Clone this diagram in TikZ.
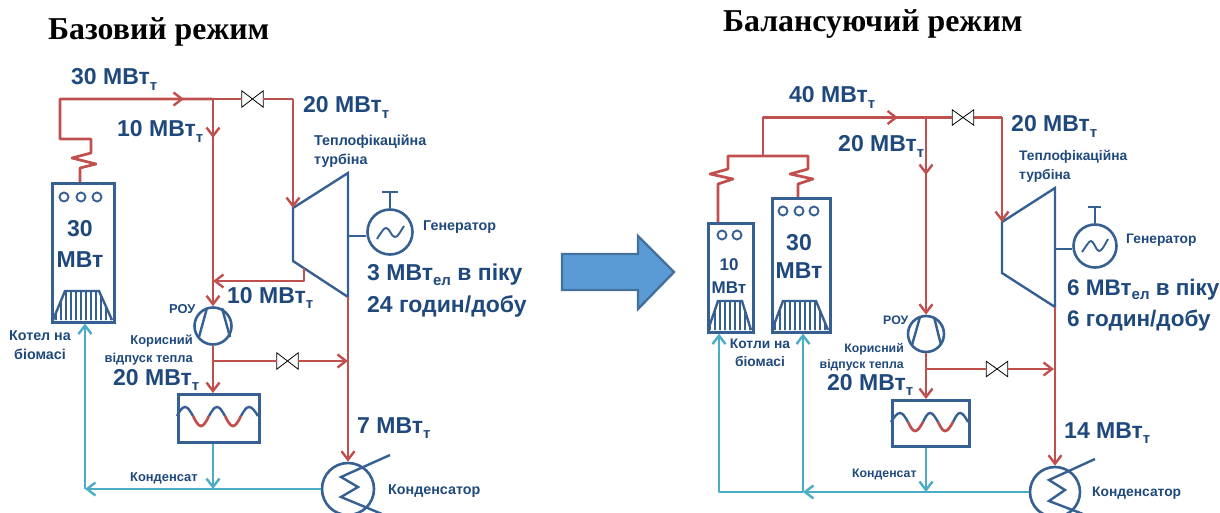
\documentclass[tikz,border=0pt]{standalone}
\usepackage{fontspec}
\setmainfont{Liberation Sans}
\newfontfamily\serifbold[BoldFont={Liberation Serif Bold}]{Liberation Serif}
\usetikzlibrary{arrows.meta}
\definecolor{steam}{HTML}{C0504D}
\definecolor{cond}{HTML}{4BACC6}
\definecolor{equip}{HTML}{376092}
\definecolor{labelc}{HTML}{1F497D}
\definecolor{bigfill}{HTML}{5B9BD5}
\definecolor{bigedge}{HTML}{41719C}
\newcommand{\sbs}[1]{\raisebox{-0.22em}{\fontsize{15}{15}\selectfont #1}}
\newcommand{\mwt}[1]{#1 МВт\sbs{т}}
\tikzset{
  x=1pt,y=-1pt,
  >={Straight Barb[length=8.5pt,width=13pt,line width=2.4pt]},
  steamline/.style={draw=steam,line width=2.7pt,line join=round},
  condline/.style={draw=cond,line width=2.7pt,line join=round},
  equipline/.style={draw=equip,line width=2.4pt,line join=miter},
  boilerbox/.style={draw=equip,line width=2.6pt,fill=white,rectangle,inner sep=0pt,anchor=north west},
  hxbox/.style={draw=equip,line width=2.6pt,rectangle,inner sep=0pt,anchor=north west},
  roundunit/.style={circle,draw=equip,line width=2.6pt,fill=white,inner sep=0pt},
  lampc/.style={circle,draw=equip,line width=1.9pt,inner sep=0pt,minimum size=9pt},
  valvebody/.style={draw=black,line width=0.8pt,fill=white},
  biglabel/.style={anchor=base west,inner sep=0pt,text=labelc,font=\fontsize{23}{23}\selectfont\bfseries},
  bigrlabel/.style={biglabel,font=\fontsize{22.5}{22.5}\selectfont\bfseries},
  smalllabel/.style={anchor=base west,inner sep=0pt,text=labelc,font=\fontsize{14.3}{14.3}\selectfont\bfseries},
  smallright/.style={smalllabel,anchor=base east},
  smallmid/.style={smalllabel,anchor=base},
  rlabel/.style={font=\fontsize{13.8}{13.8}\selectfont\bfseries},
  lrou/.style={font=\fontsize{12.9}{12.9}\selectfont\bfseries},
  rrou/.style={font=\fontsize{12.3}{12.3}\selectfont\bfseries},
  titlelabel/.style={anchor=base west,inner sep=0pt,text=black,font=\serifbold\fontsize{31.8}{31.8}\selectfont\bfseries},
  boilertext/.style={inner sep=0pt,text=labelc,font=\fontsize{23}{23}\selectfont\bfseries,anchor=base},
  boilersmall/.style={boilertext,font=\fontsize{17}{17}\selectfont\bfseries},
}
\newcommand{\valve}[5]{%
  \node[inner sep=0pt,minimum width=#4*2pt,minimum height=#5*2pt] (#1) at (#2,#3) {};
  \draw[valvebody] (#1.north west) -- (#1.south east) -- (#1.north east) -- (#1.south west) -- cycle;
}
\begin{document}
\begin{tikzpicture}
\useasboundingbox (0,0) rectangle (1220,513);
\clip (0,0) rectangle (1220,513);

%%% titles
\node[titlelabel] (t1) at (48,40) {Базовий режим};
\node[titlelabel] (t2) at (723,32) {Балансуючий режим};

%%% big arrow
\draw[draw=bigedge,fill=bigfill,line width=2.4pt,line join=miter]
  (562,254) -- (638,254) -- (638,236) -- (674,272) -- (638,309) -- (638,290) -- (562,290) -- cycle;

%%%%%%%%%%%%%%%% LEFT PANEL
% boiler
\node[boilerbox,minimum width=62pt,minimum height=139pt] (bA) at (51,182) {};
\node[lampc] (bA1) at (64,197) {};
\node[lampc] (bA2) at (81,197) {};
\node[lampc] (bA3) at (97,197) {};
\node[boilertext] (bAt1) at (80,236) {30};
\node[boilertext] (bAt2) at (80,267) {МВт};
\begin{scope}
  \clip (53,320) -- (65,291) -- (99,291) -- (112,320) -- cycle;
  \foreach \xx in {56,61,...,111}{\draw[equipline,line width=1.4pt] (\xx,289) -- (\xx,322);}
\end{scope}
\draw[equipline] (53,320) -- (65,291) -- (99,291) -- (112,320);

% turbine
\coordinate (tAa) at (293,208);
\coordinate (tAb) at (348,173);
\coordinate (tAc) at (348,297);
\coordinate (tAd) at (293,261);
\coordinate (tAx) at (304,268);
\coordinate (tAs) at (348,236);
\draw[equipline] (tAa) -- (tAb) -- (tAc) -- (tAd) -- cycle;

% generator
\node[roundunit,minimum size=45pt] (gA) at (390,232) {};
\draw[equipline] (tAs) -- (gA.west |- tAs);
\coordinate (gAt) at (390,192);
\draw[equipline] (gA.north) -- (gAt);
\draw[equipline] (382,192) -- (398,192);
\draw[equipline,line width=1.9pt] (377,239) .. controls (382,231) and (384,228) .. (386,228) .. controls (390,228) and (391,237) .. (395,237) .. controls (398,237) and (400,232) .. (404,226);

% ROU
\node[roundunit,minimum size=37pt] (rA) at (213,326) {};
\draw[equipline] (199,337) -- (207,308);
\draw[equipline] (222,308) -- (230,337);

% heat exchanger
\node[hxbox,minimum width=81pt,minimum height=48pt] (hA) at (177,393) {};
\draw[equipline] (177,416) sin (185,407) cos (193,416);
\draw[steamline] (193,416) sin (201,426) cos (209,416);
\draw[equipline] (209,416) sin (217,407) cos (225,416);
\draw[steamline] (225,416) sin (233,426) cos (241,416);
\draw[equipline] (241,416) sin (249,407) cos (258,416);

% condenser
\node[roundunit,minimum size=52pt] (cA) at (348,489) {};
\draw[equipline] (390,455) -- (341,477) -- (358,487) -- (341,497) -- (382,514);

% valves
\valve{vA1}{252.5}{99}{10.5}{8}
\valve{vA2}{287.5}{361}{10.5}{8}

% steam
\coordinate (sA0) at (80,182);
\coordinate (sA1) at (60,99);
\coordinate (sAj) at (213,99);
\coordinate (sAc) at (293,99);
\coordinate (sAm) at (184,99);
\coordinate (sAd) at (213,138);
\coordinate (sAr) at (213,281);
\coordinate (sAk) at (213,361);
\coordinate (sAe) at (348,361);
\draw[steamline] (bA.north -| sA0) -- (80,168) -- (96,164) -- (72,158) -- (91,153) -- (91,139) -- (60,139) -- (sA1) -- (sAj);
\draw[steamline,->] (sA1) -- (sAm);
\draw[steamline] (sAj) -- (vA1.west);
\draw[steamline] (vA1.east) -- (sAc);
\draw[steamline,->] (sAc) -- (tAa);
\draw[steamline,->] (sAj) -- (sAd);
\draw[steamline,->] (sAj) -- (rA.north);
\draw[steamline,->] (tAx) -- (304,281) -- (sAr);
\draw[steamline,->] (rA.south) -- (hA.north -| rA);
\draw[steamline] (sAk) -- (vA2.west);
\draw[steamline,->] (vA2.east) -- (sAe);
\draw[steamline,->] (tAc) -- (cA.north);

% condensate
\coordinate (cAj) at (213,489);
\coordinate (cAl) at (85,489);
\draw[condline,->] (hA.south -| cAj) -- (cAj);
\draw[condline,->] (cA.west) -- (cAl);
\draw[condline,->] (cAl) -- (bA.south -| cAl);

% labels
\node[biglabel] (lA1) at (71,85) {\mwt{30}};
\node[biglabel] (lA2) at (117,137) {\mwt{10}};
\node[biglabel] (lA3) at (303,113) {\mwt{20}};
\node[biglabel] (lA4) at (227,303) {\mwt{10}};
\node[biglabel] (lA5) at (367,280) {3 МВт\sbs{ел} в піку};
\node[biglabel] (lA6) at (367,312) {24 годин/добу};
\node[biglabel] (lA7) at (357,433) {\mwt{7}};
\node[biglabel] (lA8) at (113,385) {\mwt{20}};
\node[smalllabel] (sA1l) at (314,146) {Теплофікаційна};
\node[smalllabel] (sA2l) at (314,165) {турбіна};
\node[smalllabel] (sA3l) at (423,230) {Генератор};
\node[smalllabel,lrou] (sA4l) at (169,313) {РОУ};
\node[smallright,lrou] (sA5l) at (193,344) {Корисний};
\node[smallright,lrou] (sA6l) at (193,362) {відпуск тепла};
\node[smallmid] (sA7l) at (40,340) {Котел на};
\node[smallmid] (sA8l) at (40,359) {біомасі};
\node[smalllabel,lrou] (sA9l) at (130,481) {Конденсат};
\node[smalllabel] (sA10l) at (388,494) {Конденсатор};

%%%%%%%%%%%%%%%% RIGHT PANEL
% boilers
\node[boilerbox,minimum width=45pt,minimum height=109pt] (bB) at (707,222) {};
\node[lampc] (bB1) at (722,235) {};
\node[lampc] (bB2) at (737,235) {};
\node[boilersmall] (bBt1) at (729,270) {10};
\node[boilersmall] (bBt2) at (729,293) {МВт};
\begin{scope}
  \clip (708,330) -- (718,301) -- (742,301) -- (751,330) -- cycle;
  \foreach \xx in {710,715,...,750}{\draw[equipline,line width=1.4pt] (\xx,299) -- (\xx,332);}
\end{scope}
\draw[equipline] (708,330) -- (718,301) -- (742,301) -- (751,330);

\node[boilerbox,minimum width=58pt,minimum height=134pt] (bC) at (771,197) {};
\node[lampc] (bC1) at (783,211) {};
\node[lampc] (bC2) at (799,211) {};
\node[lampc] (bC3) at (814,211) {};
\node[boilertext] (bCt1) at (799,250) {30};
\node[boilertext] (bCt2) at (799,278) {МВт};
\begin{scope}
  \clip (772,330) -- (783,301) -- (816,301) -- (828,330) -- cycle;
  \foreach \xx in {775,780,...,826}{\draw[equipline,line width=1.4pt] (\xx,299) -- (\xx,332);}
\end{scope}
\draw[equipline] (772,330) -- (783,301) -- (816,301) -- (828,330);

% turbine
\coordinate (tBa) at (1002,222);
\coordinate (tBb) at (1055,188);
\coordinate (tBc) at (1055,307);
\coordinate (tBd) at (1002,273);
\coordinate (tBs) at (1055,249);
\draw[equipline] (tBa) -- (tBb) -- (tBc) -- (tBd) -- cycle;

% generator
\node[roundunit,minimum size=43pt] (gB) at (1095,246) {};
\draw[equipline] (tBs) -- (gB.west |- tBs);
\coordinate (gBt) at (1095,207);
\draw[equipline] (gB.north) -- (gBt);
\draw[equipline] (1088,207) -- (1101,207);
\draw[equipline,line width=1.9pt] (1082,252) .. controls (1087,245) and (1089,241) .. (1091,241) .. controls (1094,241) and (1096,251) .. (1099,251) .. controls (1102,251) and (1104,246) .. (1108,239);

% ROU
\node[roundunit,minimum size=36pt] (rB) at (926,334) {};
\draw[equipline] (912,345) -- (920,317);
\draw[equipline] (934,317) -- (941,345);

% heat exchanger
\node[hxbox,minimum width=77pt,minimum height=46pt] (hB) at (891,399) {};
\draw[equipline] (891,422) sin (900,413) cos (908,422);
\draw[steamline] (908,422) sin (915,431) cos (923,422);
\draw[equipline] (923,422) sin (930,413) cos (938,422);
\draw[steamline] (938,422) sin (945,431) cos (953,422);
\draw[equipline] (953,422) sin (960,413) cos (968,422);

% condenser
\node[roundunit,minimum size=50pt] (cB) at (1055,492) {};
\draw[equipline] (1095,459) -- (1049,480) -- (1065,490) -- (1049,501) -- (1083,514);

% valves
\valve{vB1}{963}{117.5}{10.5}{7.5}
\valve{vB2}{997}{369}{10.5}{7.5}

% steam
\coordinate (sBb) at (763,156);
\coordinate (sB1) at (763,117.5);
\coordinate (sBj) at (926,117.5);
\coordinate (sBc) at (1002,117.5);
\coordinate (sBm) at (898,117.5);
\coordinate (sBd) at (926,175);
\coordinate (sBk) at (926,369);
\coordinate (sBe) at (1054,369);
\draw[steamline] (bB.north -| 718,0) -- (718,184) -- (733,179) -- (710,174) -- (728,169) -- (728,156) -- (808,156) -- (808,169) -- (790,174) -- (813,179) -- (798,184) -- (bC.north -| 798,0);
\draw[steamline] (sBb) -- (sB1) -- (sBj);
\draw[steamline,->] (sB1) -- (sBm);
\draw[steamline] (sBj) -- (vB1.west);
\draw[steamline] (vB1.east) -- (sBc);
\draw[steamline,->] (sBc) -- (tBa);
\draw[steamline,->] (sBj) -- (sBd);
\draw[steamline,->] (sBj) -- (rB.north);
\draw[steamline,->] (rB.south) -- (hB.north -| rB);
\draw[steamline] (sBk) -- (vB2.west);
\draw[steamline,->] (vB2.east) -- (sBe);
\draw[steamline,->] (tBc) -- (cB.north);

% condensate
\coordinate (cBj) at (926,492);
\coordinate (cBm) at (803,492);
\coordinate (cBl) at (719,492);
\draw[condline,->] (hB.south -| cBj) -- (cBj);
\draw[condline,->] (cB.west) -- (cBm);
\draw[condline,->] (cBm) -- (bC.south -| cBm);
\draw[condline,->] (cBm) -- (cBl) -- (bB.south -| cBl);

% labels
\node[biglabel] (lB1) at (789,103) {\mwt{40}};
\node[biglabel] (lB2) at (838,152) {\mwt{20}};
\node[biglabel] (lB3) at (1011,132) {\mwt{20}};
\node[bigrlabel] (lB4) at (1067,295) {6 МВт\sbs{ел} в піку};
\node[bigrlabel] (lB5) at (1067,326) {6 годин/добу};
\node[biglabel] (lB6) at (1064,438) {\mwt{14}};
\node[biglabel] (lB7) at (827,390) {\mwt{20}};
\node[smalllabel,rlabel] (sB1l) at (1019,161) {Теплофікаційна};
\node[smalllabel,rlabel] (sB2l) at (1019,179) {турбіна};
\node[smalllabel,rlabel] (sB3l) at (1126,243) {Генератор};
\node[smalllabel,rrou] (sB4l) at (883,324) {РОУ};
\node[smallright,rrou] (sB5l) at (904,352) {Корисний};
\node[smallright,rrou] (sB6l) at (904,368) {відпуск тепла};
\node[smallmid,rlabel] (sB7l) at (760,348) {Котли на};
\node[smallmid,rlabel] (sB8l) at (760,366) {біомасі};
\node[smalllabel,rrou] (sB9l) at (852,477) {Конденсат};
\node[smalllabel,rlabel] (sB10l) at (1092,496) {Конденсатор};
\end{tikzpicture}
\end{document}
